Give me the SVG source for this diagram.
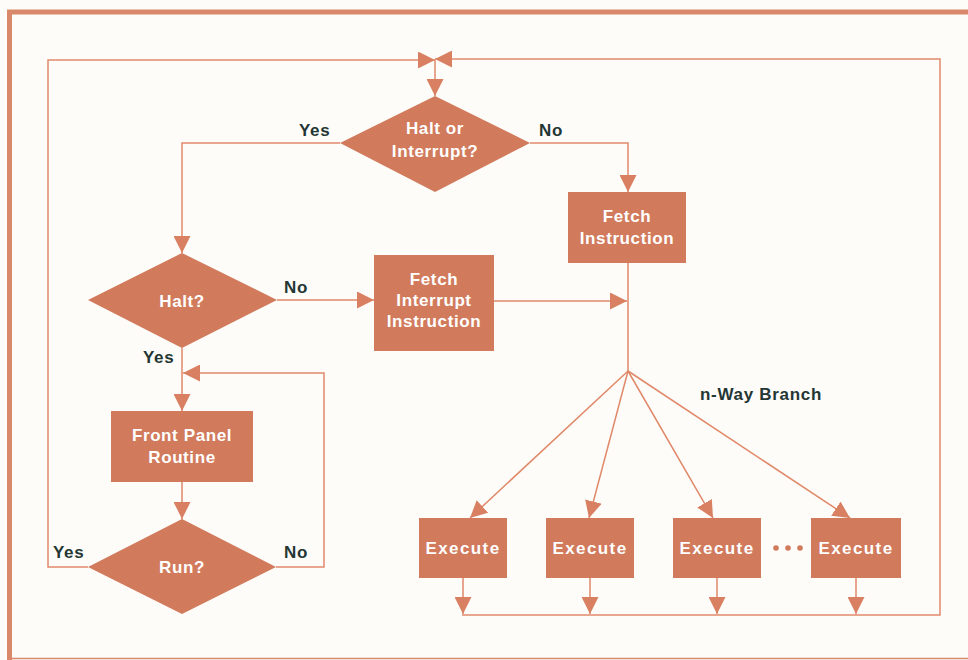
<svg xmlns="http://www.w3.org/2000/svg" width="968" height="660" viewBox="0 0 968 660">
<style>
.bg{fill:#FDFCF9}
.frame{fill:none;stroke:#D9896A}
.shape{fill:#D17A5C}
.ln{fill:none;stroke:#E08969;stroke-width:1.5;stroke-linejoin:miter}
.wt{fill:#FFFFFF;font-family:"Liberation Sans",Arial,sans-serif;font-weight:bold;font-size:17px;letter-spacing:0.6px;text-anchor:middle;dominant-baseline:central}
.lb{fill:#243634;font-family:"Liberation Sans",Arial,sans-serif;font-weight:bold;font-size:17px;letter-spacing:0.7px;dominant-baseline:central}
.ex{letter-spacing:1.4px}
</style>
<defs>
<marker id="ah" markerUnits="userSpaceOnUse" markerWidth="17" markerHeight="17" refX="17" refY="8.5" orient="auto" viewBox="0 0 17 17">
<path d="M0,0 L17,8.5 L0,17 z" fill="#D98062"/>
</marker>
</defs>
<rect class="bg" x="0" y="0" width="968" height="660"/>
<path class="frame" d="M9.5,660 L9.5,12 L968,12" stroke-width="5"/>
<line class="frame" x1="8" y1="658.5" x2="968" y2="658.5" stroke-width="1.5"/>

<g id="connectors">
<path class="ln" d="M88,567 L48,567 L48,60 L435,60" marker-end="url(#ah)"/>
<path class="ln" d="M462,615 L940,615 L940,59 L435,59" marker-end="url(#ah)"/>
<path class="ln" d="M435,60 L435,96" marker-end="url(#ah)"/>
<path class="ln" d="M340,143 L182,143 L182,253" marker-end="url(#ah)"/>
<path class="ln" d="M530,143 L628,143 L628,192" marker-end="url(#ah)"/>
<path class="ln" d="M277,300 L374,300" marker-end="url(#ah)"/>
<path class="ln" d="M494,301 L627,301" marker-end="url(#ah)"/>
<path class="ln" d="M628,263 L628,371"/>
<path class="ln" d="M628,371 L470,518" marker-end="url(#ah)"/>
<path class="ln" d="M628,371 L589,518" marker-end="url(#ah)"/>
<path class="ln" d="M628,371 L713,518" marker-end="url(#ah)"/>
<path class="ln" d="M628,371 L850,518" marker-end="url(#ah)"/>
<path class="ln" d="M182,348 L182,411" marker-end="url(#ah)"/>
<path class="ln" d="M276,567 L324,567 L324,373 L183,373" marker-end="url(#ah)"/>
<path class="ln" d="M182,482 L182,519" marker-end="url(#ah)"/>
<path class="ln" d="M463,578 L463,614" marker-end="url(#ah)"/>
<path class="ln" d="M590,578 L590,614" marker-end="url(#ah)"/>
<path class="ln" d="M717,578 L717,614" marker-end="url(#ah)"/>
<path class="ln" d="M856,578 L856,614" marker-end="url(#ah)"/>
</g>

<g id="halt-or-interrupt">
<polygon class="shape" points="435,96 530,143 435,192 340,143"/>
<text class="wt" x="435" y="128">Halt or</text>
<text class="wt" x="435" y="151">Interrupt?</text>
</g>
<g id="label-yes-top"><text class="lb" x="299" y="130">Yes</text></g>
<g id="label-no-top"><text class="lb" x="539" y="130">No</text></g>

<g id="fetch-instruction">
<rect class="shape" x="568" y="192" width="118" height="71"/>
<text class="wt" x="627" y="216">Fetch</text>
<text class="wt" x="627" y="238">Instruction</text>
</g>

<g id="halt">
<polygon class="shape" points="182,253 277,300 182,348 88,300"/>
<text class="wt" x="182" y="301">Halt?</text>
</g>
<g id="label-no-halt"><text class="lb" x="284" y="287">No</text></g>
<g id="label-yes-halt"><text class="lb" x="143" y="357">Yes</text></g>

<g id="fetch-interrupt">
<rect class="shape" x="374" y="255" width="120" height="96"/>
<text class="wt" x="434" y="279">Fetch</text>
<text class="wt" x="434" y="300">Interrupt</text>
<text class="wt" x="434" y="321">Instruction</text>
</g>

<g id="front-panel">
<rect class="shape" x="111" y="411" width="142" height="71"/>
<text class="wt" x="182" y="435">Front Panel</text>
<text class="wt" x="182" y="457">Routine</text>
</g>

<g id="run">
<polygon class="shape" points="182,519 276,567 182,614 88,567"/>
<text class="wt" x="182" y="567">Run?</text>
</g>
<g id="label-yes-run"><text class="lb" x="53" y="552">Yes</text></g>
<g id="label-no-run"><text class="lb" x="284" y="552">No</text></g>

<g id="branch-label"><text class="lb" x="700" y="394">n-Way Branch</text></g>

<g id="execute-1">
<rect class="shape" x="419" y="518" width="88" height="60"/>
<text class="wt ex" x="463" y="548">Execute</text>
</g>
<g id="execute-2">
<rect class="shape" x="546" y="518" width="88" height="60"/>
<text class="wt ex" x="590" y="548">Execute</text>
</g>
<g id="execute-3">
<rect class="shape" x="673" y="518" width="88" height="60"/>
<text class="wt ex" x="717" y="548">Execute</text>
</g>
<g id="ellipsis">
<circle class="shape" cx="776" cy="548" r="2.8"/>
<circle class="shape" cx="788" cy="548" r="2.8"/>
<circle class="shape" cx="800" cy="548" r="2.8"/>
</g>
<g id="execute-4">
<rect class="shape" x="811" y="518" width="90" height="60"/>
<text class="wt ex" x="856" y="548">Execute</text>
</g>
</svg>
